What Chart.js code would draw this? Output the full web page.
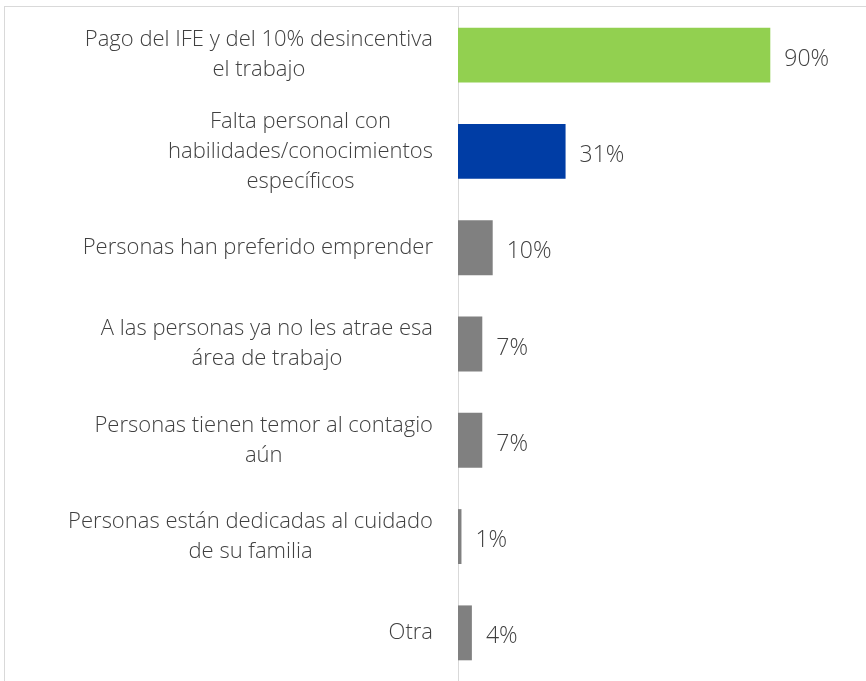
<!DOCTYPE html>
<html>
<head>
<meta charset="utf-8">
<script src="https://cdn.jsdelivr.net/npm/chart.js@4.4.1/dist/chart.umd.min.js"></script>
<style>
  html, body { margin: 0; padding: 0; background: #fff; overflow: hidden; }
  #frame { position: absolute; left: 4px; top: 6px; width: 2000px; height: 2000px; border: 1px solid #d9d9d9; }
  #wrap { position: absolute; left: 0; top: 0; width: 866px; height: 681px; }
</style>
</head>
<body>
<div id="frame"></div>
<div id="wrap"><canvas id="grafico"></canvas></div>
<script>
const categorias = [
    ['Pago del IFE y del 10% desincentiva', 'el trabajo'],
    ['Falta personal con', 'habilidades/conocimientos', 'específicos'],
    ['Personas han preferido emprender'],
    ['A las personas ya no les atrae esa', 'área de trabajo'],
    ['Personas tienen temor al contagio', 'aún'],
    ['Personas están dedicadas al cuidado', 'de su familia'],
    ['Otra']
];
const valores = [90, 31, 10, 7, 7, 1, 4];
const colores = ['#92d050', '#003da5', '#808080', '#808080', '#808080', '#808080', '#808080'];

const fuente = '300 22px "Open Sans", sans-serif';
const fuenteValor = '300 23px "Open Sans", sans-serif';
const colorTexto = '#404040';

// etiquetas de categoria: bloque alineado a la derecha, lineas centradas
const etiquetas = {
    id: 'etiquetas',
    afterDraw(chart) {
        const ctx = chart.ctx;
        const y = chart.scales.y;
        const x = chart.scales.x;
        ctx.save();
        ctx.font = fuente;
        ctx.fillStyle = colorTexto;
        ctx.textBaseline = 'middle';
        ctx.textAlign = 'center';
        const derecha = x.left - 25;
        const alto = 30;
        categorias.forEach((lineas, i) => {
            const ancho = Math.max(...lineas.map(l => ctx.measureText(l).width));
            const cx = derecha - ancho / 2;
            const cy = y.getPixelForValue(i);
            lineas.forEach((l, j) => {
                ctx.fillText(l, cx, cy + (j - (lineas.length - 1) / 2) * alto);
            });
        });
        // valores
        ctx.font = fuenteValor;
        ctx.textAlign = 'left';
        chart.getDatasetMeta(0).data.forEach((bar, i) => {
            ctx.fillText(valores[i] + '%', bar.x + 14, bar.y + 4);
        });
        ctx.restore();
    }
};

new Chart(document.getElementById('grafico'), {
    type: 'bar',
    data: {
        labels: categorias,
        datasets: [{
            data: valores,
            backgroundColor: colores,
            borderWidth: 0,
            barPercentage: 0.57,
            categoryPercentage: 1
        }]
    },
    options: {
        indexAxis: 'y',
        responsive: true,
        maintainAspectRatio: false,
        animation: false,
        layout: { padding: { top: 7, right: 61, bottom: 0, left: 0 } },
        scales: {
            x: {
                min: 0,
                max: 100,
                display: false
            },
            y: {
                ticks: { display: false },
                grid: { display: false },
                border: { display: true, color: '#d9d9d9', width: 1 },
                afterFit: (s) => { s.width = 458; }
            }
        },
        plugins: {
            legend: { display: false },
            tooltip: { enabled: false }
        }
    },
    plugins: [etiquetas]
});
</script>
</body>
</html>
